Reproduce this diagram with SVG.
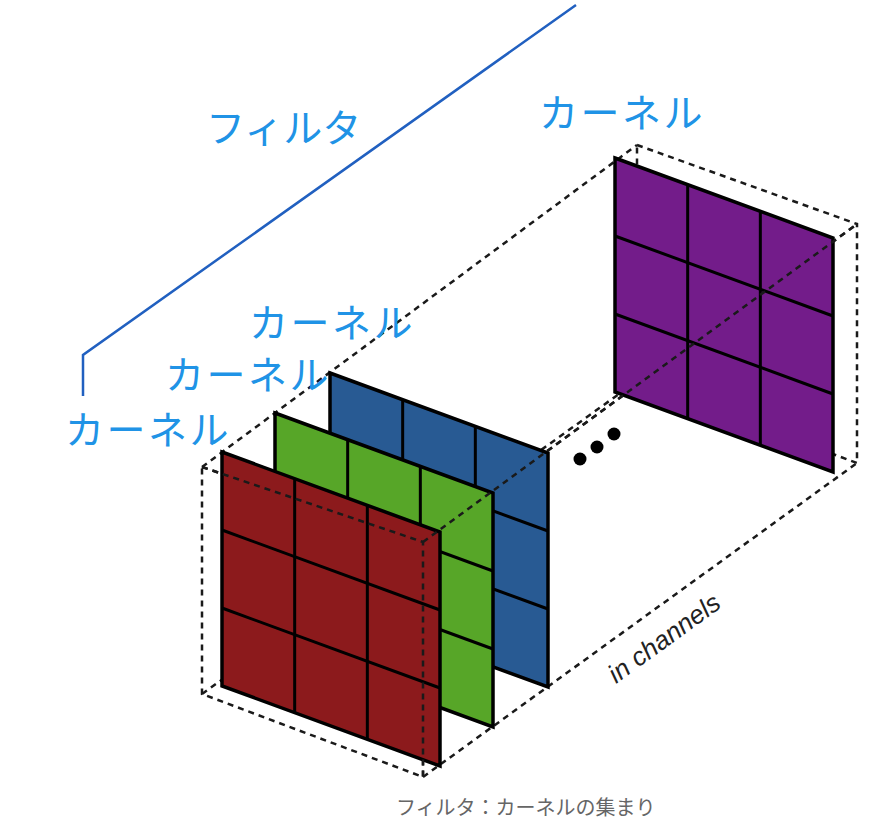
<svg xmlns="http://www.w3.org/2000/svg" xmlns:xlink="http://www.w3.org/1999/xlink" width="894" height="834" viewBox="0 0 894 834">
  <style>
    .dash { fill: none; stroke: #1a1a1a; stroke-width: 2.5; stroke-dasharray: 6 5; }
    .label { font-family: "Noto Sans CJK JP", "Noto Sans", sans-serif; font-size: 39px; fill: #2093E6; letter-spacing: 2.5px; }
    .grid { fill: none; stroke: #000; stroke-width: 3; }
    .frame { stroke: #000; stroke-width: 3.5; stroke-linejoin: miter; }
  </style>
  <defs>
    <g id="grid">
      <line class="grid" x1="72.67" y1="26.67" x2="72.67" y2="260.67"/>
      <line class="grid" x1="145.33" y1="53.33" x2="145.33" y2="287.33"/>
      <line class="grid" x1="0" y1="78" x2="218" y2="158"/>
      <line class="grid" x1="0" y1="156" x2="218" y2="236"/>
    </g>
    <polygon id="plate" class="frame" points="0,0 218,80 218,314 0,234"/>
  </defs>
  <rect width="894" height="834" fill="#ffffff"/>

  <!-- dashed box (full, drawn behind kernels) -->
  <g id="box">
    <path class="dash" d="M202,467 L423,542 L423,777 L202,694 Z"/>
    <path class="dash" d="M637,145 L857,224 L857,463 L637,381 Z"/>
    <path class="dash" d="M202,467 L637,145"/>
    <path class="dash" d="M423,542 L857,224"/>
    <path class="dash" d="M423,777 L857,463"/>
    <path class="dash" d="M202,694 L637,381"/>
  </g>

  <g id="kernel-purple" transform="translate(615,158)">
    <use xlink:href="#plate" fill="#731C8A"/>
    <use xlink:href="#grid"/>
  </g>
  <g id="kernel-blue" transform="translate(330,373)">
    <use xlink:href="#plate" fill="#285A93"/>
    <use xlink:href="#grid"/>
  </g>
  <g id="kernel-green" transform="translate(275,413)">
    <use xlink:href="#plate" fill="#57A628"/>
    <use xlink:href="#grid"/>
  </g>
  <g id="kernel-red" transform="translate(222,452)">
    <use xlink:href="#plate" fill="#8C1A1C"/>
    <use xlink:href="#grid"/>
  </g>

  <!-- dashed edges visible in front of kernels -->
  <g id="connectors">
    <path class="dash" d="M202,467 L423,542 L423,777"/>
    <path class="dash" d="M423,542 L857,224"/>
    <path d="M83,396 L83,355 L576,5" fill="none" stroke="#2160C0" stroke-width="2.5"/>
  </g>

  <g id="dots" fill="#000">
    <circle cx="580" cy="459" r="6.5"/>
    <circle cx="597" cy="447" r="6.5"/>
    <circle cx="614" cy="434" r="6.5"/>
  </g>

  <g id="labels">
    <text class="label" x="206" y="142" style="letter-spacing:0">フィルタ</text>
    <text class="label" x="539" y="127">カーネル</text>
    <text class="label" x="249" y="337">カーネル</text>
    <text class="label" x="165" y="389">カーネル</text>
    <text class="label" x="65" y="444">カーネル</text>
  </g>

  <text x="616" y="684" transform="rotate(-36 616 684)" font-family="Liberation Sans, Arial, sans-serif" font-style="italic" font-size="26" fill="#222">in channels</text>

  <text x="396" y="815" font-family="Noto Sans CJK JP, Noto Sans, sans-serif" font-size="20" fill="#666">フィルタ：カーネルの集まり</text>
</svg>
